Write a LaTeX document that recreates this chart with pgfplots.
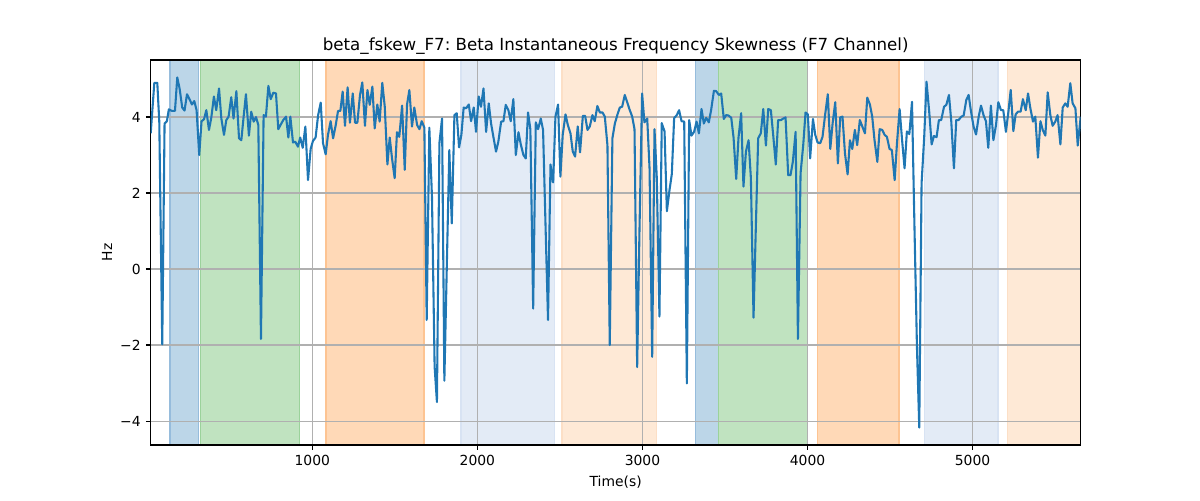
\documentclass[border=0pt]{standalone}
\usepackage{fontspec}
\setmainfont{DejaVu Sans}
\usepackage{pgfplots}
\pgfplotsset{compat=1.18}
\usepackage{pgfplotstable}
\frenchspacing
\definecolor{tabblue}{RGB}{31,119,180}
\definecolor{fblue}{RGB}{188,214,232}\definecolor{eblue}{RGB}{150,188,220}
\definecolor{fgreen}{RGB}{192,227,192}\definecolor{egreen}{RGB}{155,210,155}
\definecolor{forange}{RGB}{255,217,183}\definecolor{eorange}{RGB}{253,196,146}
\definecolor{flblue}{RGB}{227,235,246}\definecolor{elblue}{RGB}{216,227,243}
\definecolor{florange}{RGB}{254,233,214}\definecolor{elorange}{RGB}{252,223,198}
\definecolor{gridgray}{RGB}{176,176,176}
\pgfplotstableread{
x y
21 3.57
43 4.90
61 4.90
73 3.88
91 -1.98
105 3.83
119 3.89
131 4.20
150 4.16
168 4.16
182 5.04
196 4.75
212 4.25
226 4.17
241 4.60
257 4.46
271 4.33
285 4.42
299 4.18
315 3.00
329 3.89
344 3.94
358 4.18
374 3.66
388 3.98
404 4.54
418 4.18
435 4.75
449 3.96
465 3.53
479 3.92
493 4.01
509 4.52
523 3.96
540 4.68
556 3.44
570 3.39
584 4.01
598 4.60
616 3.51
630 4.14
645 3.88
659 4.00
673 3.79
689 -1.84
705 4.05
719 4.01
734 4.82
748 4.47
764 4.64
780 4.62
794 3.68
810 3.81
824 3.92
841 4.01
855 3.46
867 4.01
883 3.33
897 3.35
913 3.22
927 3.46
942 3.19
958 3.75
974 2.34
990 3.16
1004 3.37
1020 3.46
1035 4.04
1051 4.38
1065 3.31
1081 3.02
1095 3.53
1111 3.89
1126 3.44
1142 3.79
1156 4.16
1170 4.16
1184 4.67
1198 3.77
1214 4.78
1228 3.85
1245 4.62
1259 3.85
1273 3.85
1289 4.58
1303 4.91
1319 3.77
1334 4.71
1348 4.32
1364 4.80
1378 3.70
1394 4.33
1408 3.88
1424 4.90
1439 4.27
1455 2.75
1469 3.46
1483 2.91
1499 2.39
1513 3.60
1527 3.48
1544 4.30
1560 2.61
1574 4.33
1588 4.71
1604 3.75
1618 4.25
1635 3.79
1649 3.68
1663 3.89
1679 3.72
1693 -1.34
1709 3.72
1725 1.9
1741 -2.57
1755 -3.50
1770 3.31
1786 3.96
1800 -2.94
1815 0.1
1830 3.13
1845 1.20
1861 4.05
1875 4.10
1889 3.20
1903 3.53
1917 4.25
1932 4.23
1948 4.33
1962 3.89
1978 4.25
1992 3.61
2008 4.54
2022 4.27
2037 4.75
2053 3.61
2069 4.36
2083 3.83
2097 3.48
2113 3.09
2127 3.35
2144 3.88
2158 3.89
2172 4.32
2188 4.18
2202 3.89
2218 4.47
2233 3.00
2249 3.60
2263 3.28
2279 3.00
2293 2.91
2307 4.12
2321 3.68
2338 -1.04
2354 3.86
2368 3.68
2384 3.96
2398 3.66
2412 1.3
2428 -1.34
2443 2.75
2459 2.28
2473 4.01
2489 4.33
2503 2.43
2517 3.53
2534 4.07
2548 3.79
2564 3.57
2578 3.09
2592 2.96
2608 3.75
2622 3.07
2639 4.03
2653 4.03
2667 3.66
2681 3.75
2697 4.05
2711 3.89
2727 4.29
2742 4.12
2758 4.12
2772 4.01
2788 3.26
2802 -2.0
2818 3.44
2833 3.83
2849 4.07
2863 4.25
2877 4.27
2893 4.58
2907 4.40
2921 4.21
2938 4.01
2952 3.68
2968 -2.58
2982 1.0
2998 4.62
3012 3.86
3029 3.96
3043 2.65
3059 -2.31
3073 3.68
3087 2.4
3103 -1.25
3117 3.84
3134 3.62
3148 1.52
3164 2.08
3178 2.50
3192 3.97
3208 4.05
3222 4.18
3237 3.89
3253 3.88
3269 -3.01
3283 3.92
3297 3.51
3313 3.61
3328 3.88
3342 3.57
3358 4.21
3372 3.83
3386 3.98
3402 3.86
3416 4.18
3433 4.69
3447 4.68
3463 4.58
3477 4.62
3493 3.95
3507 4.05
3521 4.04
3538 3.98
3552 3.46
3568 2.37
3582 3.46
3598 4.10
3612 2.17
3627 3.09
3643 3.39
3657 2.39
3673 -1.28
3687 1.1
3701 3.44
3717 3.57
3732 4.21
3748 3.25
3762 4.21
3778 4.18
3792 3.53
3808 2.75
3822 3.92
3839 3.92
3853 3.96
3867 3.99
3883 2.47
3897 2.47
3911 2.82
3928 3.61
3942 -1.84
3958 2.52
3974 3.26
3988 4.12
4002 4.07
4016 2.91
4033 3.95
4047 3.53
4061 3.33
4077 3.31
4091 3.48
4107 4.07
4123 4.60
4138 3.16
4152 3.83
4168 4.39
4184 2.78
4198 3.99
4212 4.01
4227 3.04
4243 2.49
4257 3.39
4271 3.16
4287 3.66
4301 3.26
4317 3.92
4332 3.75
4348 3.57
4362 4.51
4378 4.33
4392 4.01
4406 3.39
4423 2.82
4437 3.68
4453 3.66
4467 3.53
4481 3.48
4497 3.16
4511 3.13
4528 2.34
4542 3.31
4558 4.21
4572 3.44
4588 2.65
4602 3.62
4617 3.55
4633 4.40
4648 1.1
4663 -2.05
4677 -4.17
4691 2.25
4707 3.48
4721 4.93
4738 4.10
4752 3.28
4766 3.50
4782 3.47
4796 3.92
4810 3.92
4827 4.27
4841 4.32
4857 4.58
4871 3.88
4887 2.65
4901 3.92
4915 3.92
4932 4.01
4946 4.04
4962 4.45
4976 4.58
4990 4.16
5006 3.75
5021 3.54
5037 4.01
5051 4.30
5067 4.04
5081 3.89
5095 3.19
5111 4.30
5126 3.39
5142 3.79
5156 4.39
5172 4.18
5186 4.18
5202 3.61
5217 4.14
5231 4.71
5247 3.63
5261 4.07
5275 4.14
5291 4.14
5305 4.47
5322 4.18
5336 4.62
5350 4.23
5366 3.88
5380 4.01
5396 2.93
5411 3.89
5425 3.66
5441 3.51
5455 4.65
5471 4.05
5485 3.77
5501 3.88
5515 4.05
5532 3.28
5546 4.25
5562 4.36
5576 4.27
5592 4.89
5606 4.36
5623 4.23
5637 3.25
5655 4.01
}\skewdata
\newcommand{\vspan}[4]{\addplot[on layer=axis background, forget plot, fill=#3, draw=#4, line width=0.8pt] coordinates {(#1,-6) (#2,-6) (#2,7) (#1,7)} -- cycle;}
\begin{document}
\begin{tikzpicture}
\begin{axis}[
  set layers=standard,
  clip mode=individual,
  at={(108.5pt,39.6pt)}, anchor=south west,
  scale only axis, width=669.6pt, height=277.2pt,
  xmin=21, xmax=5655, ymin=-4.63, ymax=5.5,
  xtick={1000,2000,3000,4000,5000},
  xticklabels={1000,2000,3000,4000,5000},
  ytick={-4,-2,0,2,4},
  yticklabels={−4,−2,0,2,4},
  minor tick num=0,
  tick align=outside, major tick length=3.5pt,
  tick style={black, line width=0.8pt},
  xtick pos=bottom, ytick pos=left,
  grid=major,
  major grid style={gridgray, line width=0.8pt},
  axis line style={black, line width=0.8pt},
  ticklabel style={font=\fontsize{10}{12}\selectfont},
  yticklabel style={inner sep=0pt, anchor=east, xshift=-3.5pt},
  xticklabel style={inner sep=0pt, anchor=north, yshift=-3.5pt},
  /pgf/number format/assume math mode=true,
  title={beta\_fskew\_F7: Beta Instantaneous Frequency Skewness (F7 Channel)},
  title style={font=\fontsize{12}{14}\selectfont, at={(axis description cs:0.5,1)}, anchor=base, yshift=0.5pt, inner sep=0pt},
  xlabel={Time(s)},
  xlabel style={font=\fontsize{10}{12}\selectfont, at={(axis description cs:0.5,-0.08)}, anchor=north, inner sep=0pt},
  ylabel={Hz},
  ylabel style={font=\fontsize{10}{12}\selectfont, at={(axis description cs:-0.047,0.5)}, anchor=center, inner sep=0pt},
]
\vspan{138}{309}{fblue}{eblue}
\vspan{321}{923}{fgreen}{egreen}
\vspan{1083}{1677}{forange}{eorange}
\vspan{1901}{2465}{flblue}{elblue}
\vspan{2513}{3087}{florange}{elorange}
\vspan{3319}{3461}{fblue}{eblue}
\vspan{3461}{4000}{fgreen}{egreen}
\vspan{4061}{4554}{forange}{eorange}
\vspan{4707}{5154}{flblue}{elblue}
\vspan{5210}{5800}{florange}{elorange}
\addplot[tabblue, line width=1.5pt, line join=round, mark=none] table[x=x,y=y] {\skewdata};
\end{axis}
\pgfresetboundingbox
\path[use as bounding box] (0,0) rectangle (864pt,360pt);
\end{tikzpicture}
\end{document}
